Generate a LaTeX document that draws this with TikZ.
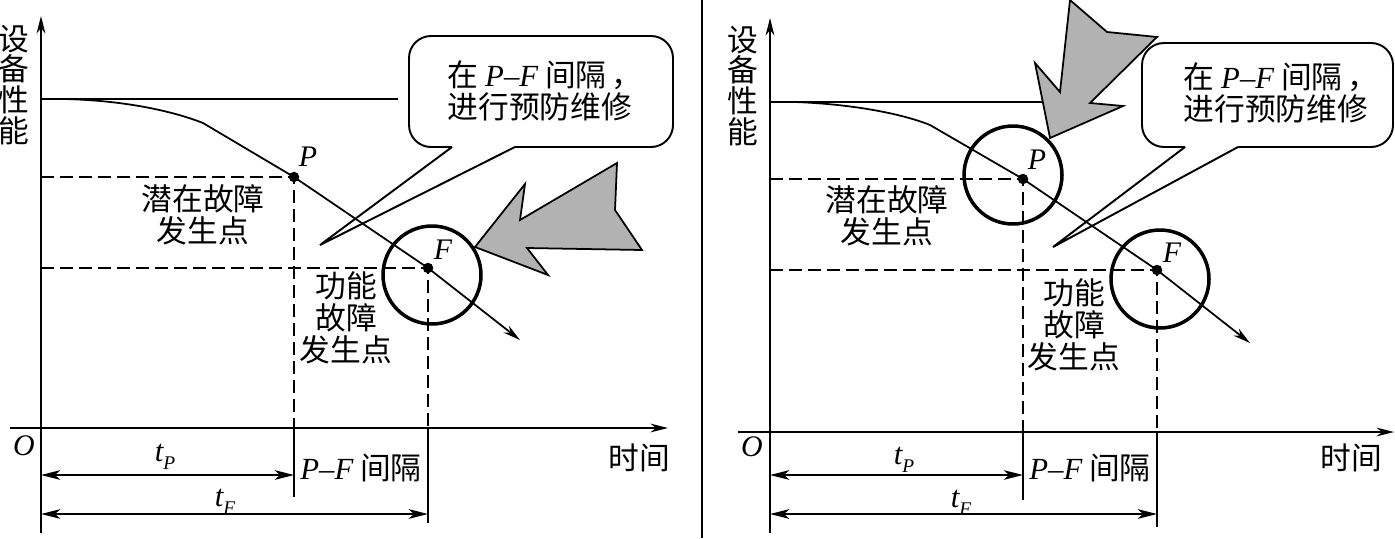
\documentclass[tikz,border=0pt]{standalone}
\usepackage{fontspec}
\setmainfont{Liberation Serif}
\newfontfamily\cjk{Noto Sans CJK SC}
\usetikzlibrary{arrows.meta,calc}
\definecolor{ArrowGray}{RGB}{178,178,178}
\newcommand{\ital}[1]{{\rmfamily\itshape #1}}
\newcommand{\tsub}[1]{\ital{t}\raisebox{-0.5ex}{\fontsize{11}{11}\selectfont\ital{#1}}}
\newcommand{\PF}{\ital{P}{\rmfamily\textendash}\ital{F}}

\begin{document}
\begin{tikzpicture}[x=0.02cm, y=-0.02cm, font=\cjk\fontsize{17.5}{18.2}\selectfont, every node/.style={align=center, inner sep=0pt}]
\tikzset{
  axis/.style={line width=1.1pt, -{Stealth[length=10pt,width=5pt]}},
  curveline/.style={line width=1pt, -{Stealth[length=10pt,width=5pt]}},
  guide/.style={line width=0.8pt, dash pattern=on 0.26cm off 0.12cm},
  ext/.style={line width=0.8pt},
  dimarr/.style={line width=1pt, {Stealth[length=11pt,width=5.5pt,inset=3pt]}-{Stealth[length=11pt,width=5.5pt,inset=3pt]}},
  dot/.style={circle, fill, minimum size=0.21cm},
  ring/.style={circle, draw, line width=2pt, minimum size=1.96cm},
  bubble/.style={line width=1.1pt, rounded corners=0.44cm},
  tail/.style={line width=1.1pt},
  bigarrow/.style={draw, line width=1pt, fill=ArrowGray, line join=miter},
  ptlabel/.style={font=\rmfamily\itshape\fontsize{17}{18}\selectfont}
}
\useasboundingbox (0,0) rectangle (1395,538);
% line between the two panels
\draw[ext] (702,0) -- (702,538);

% ---- left panel: arrow points at F ----
\coordinate (lO) at (41,428);
\coordinate (lytop) at (41,16);
\coordinate (lybot) at (41,533);
\coordinate (lxleft) at (10,428);
\coordinate (lxright) at (668,428);
\coordinate (lstart) at (41,99);
\coordinate (lflat) at (398,99);
\coordinate (lP) at (294,177);
\coordinate (lF) at (428,268);
\coordinate (lend) at (520,340);
\coordinate (lPfoot) at (294,497);
\coordinate (lFfoot) at (428,523);
\coordinate (ltp) at (294,475);
\coordinate (ltf) at (428,514);
\draw[axis] (lybot) -- (lytop);
\draw[axis] (lxleft) -- (lxright);
\node[ptlabel] (lOlab) at (24,446) {O};
\node (ltime) at (639,458) {时间};
\node[font=\cjk\fontsize{17.5}{17.6}\selectfont] (lperf) at (14,85) {设\\备\\性\\能};
\draw[ext] (lstart) -- (lflat);
\draw[curveline] (lstart) -- (62,99) .. controls (120,100) and (170,110) .. (203,123) -- (lP) -- (lF) -- (lend);
\draw[guide] (lO |- lP) -- (lP) -- (lO -| lP);
\draw[guide] (lO |- lF) -- (lF) -- (lO -| lF);
\draw[ext] (lO -| lP) -- (lPfoot);
\draw[ext] (lO -| lF) -- (lFfoot);
\node[dot] (lPdot) at (lP) {};
\node[dot] (lFdot) at (lF) {};
\node[ptlabel] (lPlab) at (308,157) {P};
\node[ptlabel] (lFlab) at (443,250) {F};
\node[ring] (lFring) at (432,275) {};
\node (llatent) at (203,215) {潜在故障\\发生点};
\node (lfunc) at (346,318) {功能\\故障\\发生点};
\draw[dimarr] (lO |- ltp) -- (ltp);
\draw[dimarr] (lO |- ltf) -- (ltf);
\node (ltplab) at (165,457) {\tsub{P}};
\node (ltflab) at (225,502) {\tsub{F}};
\node (lgap) at (361,468) {\PF\ 间隔};
% bubble
\coordinate (ltail1) at (452,147);
\coordinate (ltail2) at (515,147);
\coordinate (ltip) at (320,245);
\draw[bubble] (ltail2) -- (673,147) -- (673,36) -- (409,36) -- (409,147) -- (ltail1);
\draw[tail] (ltail1) -- (ltip) -- (ltail2);
\node[align=left] (lnote) at (545,91) {在 \PF\ 间隔\,，\\进行预防维修};
\draw[bigarrow] (475,247) -- (525,184) -- (520,220) -- (617,163) -- (615,210) -- (642,250) -- (527,248) -- (548,275) -- cycle;

% ---- right panel: arrow points at P ----
\coordinate (rO) at (770,432);
\coordinate (rytop) at (770,18);
\coordinate (rybot) at (770,533);
\coordinate (rxleft) at (738,432);
\coordinate (rxright) at (1394,432);
\coordinate (rstart) at (770,102);
\coordinate (rflat) at (1046,102);
\coordinate (rP) at (1023,179);
\coordinate (rF) at (1157,270);
\coordinate (rend) at (1250,343);
\coordinate (rPfoot) at (1023,500);
\coordinate (rFfoot) at (1157,527);
\coordinate (rtp) at (1023,475);
\coordinate (rtf) at (1157,514);
\draw[axis] (rybot) -- (rytop);
\draw[axis] (rxleft) -- (rxright);
\node[ptlabel] (rOlab) at (752,447) {O};
\node (rtime) at (1351,458) {时间};
\node[font=\cjk\fontsize{17.5}{17.6}\selectfont] (rperf) at (743,86) {设\\备\\性\\能};
\draw[ext] (rstart) -- (rflat);
\draw[curveline] (rstart) -- (795,102) .. controls (850,104) and (900,113) .. (930,125) -- (rP) -- (rF) -- (rend);
\draw[guide] (rO |- rP) -- (rP) -- (rO -| rP);
\draw[guide] (rO |- rF) -- (rF) -- (rO -| rF);
\draw[ext] (rO -| rP) -- (rPfoot);
\draw[ext] (rO -| rF) -- (rFfoot);
\node[dot] (rPdot) at (rP) {};
\node[dot] (rFdot) at (rF) {};
\node[ptlabel] (rPlab) at (1037,160) {P};
\node[ptlabel] (rFlab) at (1172,253) {F};
\node[ring] (rPring) at (1013,175) {};
\node[ring] (rFring) at (1160,279) {};
\node (rlatent) at (887,216) {潜在故障\\发生点};
\node (rfunc) at (1074,325) {功能\\故障\\发生点};
\draw[dimarr] (rO |- rtp) -- (rtp);
\draw[dimarr] (rO |- rtf) -- (rtf);
\node (rtplab) at (904,460) {\tsub{P}};
\node (rtflab) at (961,503) {\tsub{F}};
\node (rgap) at (1090,468) {\PF\ 间隔};
% bubble
\coordinate (rtail1) at (1185,147);
\coordinate (rtail2) at (1238,147);
\coordinate (rtip) at (1053,247);
\draw[bubble] (rtail2) -- (1393,147) -- (1393,43) -- (1142,43) -- (1142,147) -- (rtail1);
\draw[tail] (rtail1) -- (rtip) -- (rtail2);
\node[align=left] (rnote) at (1281,93) {在 \PF\ 间隔\,，\\进行预防维修};
\draw[bigarrow] (1050,138) -- (1035,63) -- (1060,92) -- (1070,0) -- (1107,32) -- (1157,37) -- (1090,103) -- (1123,106) -- cycle;
\end{tikzpicture}
\end{document}
